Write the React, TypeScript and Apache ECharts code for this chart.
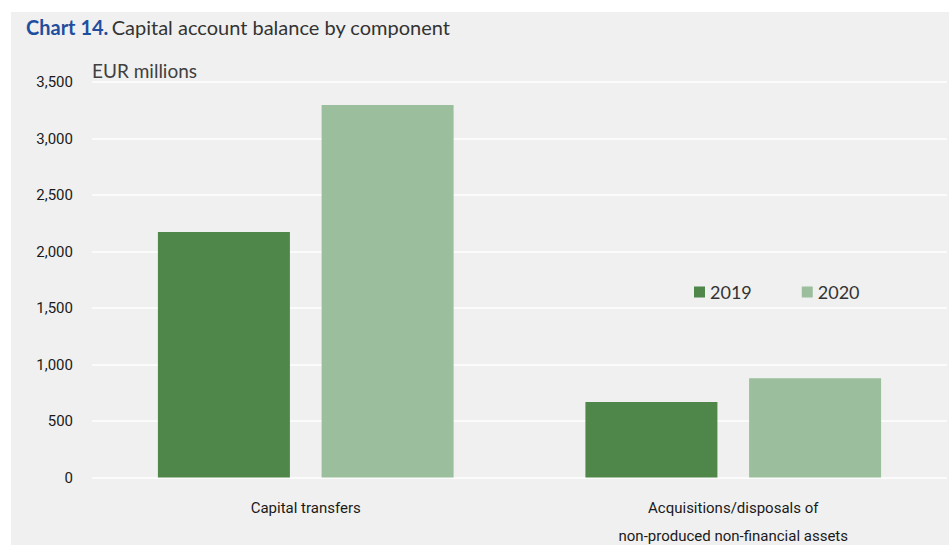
import React, { useEffect, useRef } from "react";
import * as echarts from "echarts";

const categories = [
  "Capital transfers",
  "Acquisitions/disposals of\nnon-produced non-financial assets",
];
const seriesNames = ["2019", "2020"];
const values2019 = [2172, 668];
const values2020 = [3296, 878];
const yTicks = { min: 0, max: 3500, interval: 500 };

export default function App() {
  const ref = useRef<HTMLDivElement>(null);
  useEffect(() => {
    document.body.style.margin = "0";
    const chart = echarts.init(ref.current!, null, { renderer: "svg" });
    const axisFont = "Roboto, sans-serif";
    chart.setOption({
      animation: false,
      backgroundColor: "#ffffff",
      graphic: [
        {
          type: "rect",
          z: -10,
          shape: { x: 11, y: 12, width: 938, height: 533 },
          style: { fill: "#f0f0f0" },
          silent: true,
        },
        {
          type: "text",
          x: 26,
          y: 27,
          style: {
            text: "{b|Chart 14.} {n|Capital account balance by component}",
            verticalAlign: "middle",
            rich: {
              b: { fontFamily: "Lato", fontWeight: "bold", fontSize: 20, fill: "#1f4e9e" },
              n: { fontFamily: "Lato", fontSize: 20, fill: "#333333" },
            },
          },
        },
        {
          type: "text",
          x: 92,
          y: 70,
          style: {
            text: "EUR millions",
            fontFamily: "Lato",
            fontSize: 19,
            fill: "#404040",
            verticalAlign: "middle",
          },
        },
      ],
      legend: {
        left: 689,
        top: 278,
        itemWidth: 11,
        itemHeight: 11,
        itemGap: 50,
        icon: "rect",
        textStyle: { fontFamily: "Lato", fontSize: 18, color: "#333333" },
        data: seriesNames,
      },
      grid: {
        left: 92,
        right: 2,
        top: 82,
        bottom: 67.5,
        containLabel: false,
        outerBoundsMode: "none",
      },
      xAxis: {
        type: "category",
        data: categories,
        axisLine: { show: false },
        axisTick: { show: false },
        axisLabel: {
          interval: 0,
          margin: 16,
          fontFamily: axisFont,
          fontSize: 15,
          lineHeight: 28,
          color: "#1a1a1a",
        },
      },
      yAxis: {
        type: "value",
        min: yTicks.min,
        max: yTicks.max,
        interval: yTicks.interval,
        axisLine: { show: false },
        axisTick: { show: false },
        splitLine: { lineStyle: { color: "#ffffff", width: 1.5 } },
        axisLabel: {
          margin: 19,
          fontFamily: axisFont,
          fontSize: 15,
          color: "#1a1a1a",
          formatter: (v: number) => v.toLocaleString("en-US"),
        },
      },
      series: [
        {
          name: seriesNames[0],
          type: "bar",
          data: values2019,
          barWidth: 132,
          barGap: "24%",
          itemStyle: { color: "#4f874a" },
        },
        {
          name: seriesNames[1],
          type: "bar",
          data: values2020,
          barWidth: 132,
          barGap: "24%",
          itemStyle: { color: "#9bbf9c" },
        },
      ],
    });
    return () => chart.dispose();
  }, []);
  return (
    <div
      ref={ref}
      style={{ position: "absolute", left: 0, top: 0, width: 949, height: 545 }}
    />
  );
}
